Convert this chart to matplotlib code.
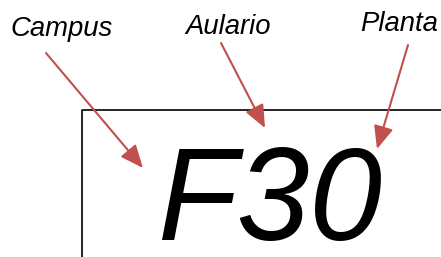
import matplotlib.pyplot as plt
from matplotlib.lines import Line2D

code = "F30"
labels = ["Campus", "Aulario", "Planta"]
label_pos = [(10, 36), (185, 34), (360, 31)]
arrow_start = [(46, 53), (221, 43), (408, 45)]
arrow_tip = [(143, 168), (265, 128), (377, 149)]

red = "#C0504D"

fig = plt.figure(figsize=(4.41, 2.57), dpi=100)
ax = fig.add_axes([0, 0, 1, 1])
ax.set_xlim(0, 441)
ax.set_ylim(257, 0)
ax.axis("off")

# box around the code
ax.add_line(Line2D([82, 82, 441], [257, 110, 110], color="black", lw=1.2))

ax.text(158, 240, code, fontsize=94, fontstyle="italic",
        family="Liberation Sans", color="black")

for lab, (x, y) in zip(labels, label_pos):
    ax.text(x, y, lab, fontsize=19.8, fontstyle="italic",
            family="Liberation Sans", color="black")

for s, t in zip(arrow_start, arrow_tip):
    ax.annotate("", xy=t, xytext=s,
                arrowprops=dict(arrowstyle="-|>,head_length=0.7,head_width=0.3",
                                mutation_scale=20, color=red, lw=1.5,
                                shrinkA=0, shrinkB=0))

fig.savefig("out.png", dpi=100)
